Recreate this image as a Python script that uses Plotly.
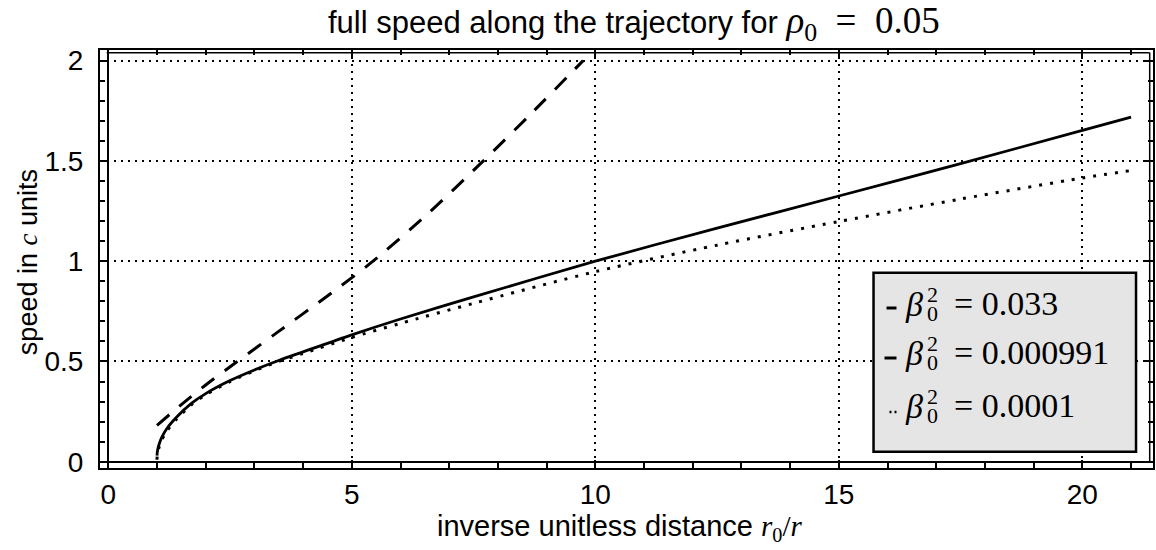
import plotly.graph_objects as go

# ---- data ----
x_dashed = [1.0, 1.5, 2.0, 2.62, 3.47, 4.59, 5.41, 6.54, 7.7, 8.72, 9.75]
y_dashed = [0.182, 0.285, 0.383, 0.495, 0.645, 0.843, 0.995, 1.232, 1.5, 1.745, 2.0]

x_solid = [1.0, 1.01, 1.04, 1.1, 1.2, 1.4, 1.7, 2.0, 2.5, 3.0, 3.5, 4.0, 5.0, 6.0, 7.5, 10, 12.5, 15, 17.5, 20, 21]
y_solid = [0.031, 0.055, 0.085, 0.123, 0.165, 0.222, 0.29, 0.34, 0.405, 0.458, 0.505, 0.548, 0.633, 0.712, 0.822, 1.0, 1.165, 1.325, 1.487, 1.652, 1.718]

x_dotted = [1.0, 1.01, 1.04, 1.1, 1.2, 1.4, 1.7, 2.0, 2.5, 3.0, 3.5, 4.0, 5.0, 6.0, 7.5, 10, 12.5, 15, 17.5, 20, 21]
y_dotted = [0.01, 0.04, 0.07, 0.11, 0.152, 0.212, 0.283, 0.334, 0.4, 0.454, 0.5, 0.54, 0.62, 0.69, 0.79, 0.948, 1.08, 1.198, 1.31, 1.415, 1.452]

legend_values = ["0.033", "0.000991", "0.0001"]
x_tick_vals = [0, 5, 10, 15, 20]
y_tick_vals = [0, 0.5, 1, 1.5, 2]
y_tick_text = ["0", "0.5", "1", "1.5", "2"]

# ---- layout helpers (pixel -> paper) ----
W, H = 1156, 550
L, R, T, B = 100, 1, 50, 82
PW, PH = W - L - R, H - T - B


def px(xp):
    return (xp - L) / PW


def py(yp):
    return (H - B - yp) / PH


SANS = "Liberation Sans"
SERIF = "Liberation Serif"

fig = go.Figure()
fig.add_trace(go.Scatter(x=x_dashed, y=y_dashed, mode="lines", line=dict(color="black", width=3, dash="16px,13px", shape="spline", smoothing=0.8), showlegend=False))
fig.add_trace(go.Scatter(x=x_solid, y=y_solid, mode="lines", line=dict(color="black", width=2.8, shape="spline", smoothing=0.8), showlegend=False))
fig.add_trace(go.Scatter(x=x_dotted, y=y_dotted, mode="lines", line=dict(color="black", width=3, dash="3px,8px", shape="spline", smoothing=0.8), showlegend=False))

axis_common = dict(
    showline=True, linewidth=2, linecolor="black", mirror="ticks",
    ticks="inside", ticklen=8, tickwidth=1.5, tickcolor="black",
    showgrid=True, gridcolor="black", gridwidth=1.6, griddash="2px,5px",
    zeroline=True, zerolinecolor="black", zerolinewidth=2,
    tickfont=dict(family=SANS, size=28, color="black"),
)

fig.update_xaxes(range=[-0.17, 21.45], tickvals=x_tick_vals, ticklabelstandoff=0,
                 minor=dict(dtick=1, tick0=0, ticks="inside", ticklen=5, tickwidth=1.5, tickcolor="black", showgrid=False),
                 **axis_common)
fig.update_yaxes(range=[-0.031, 2.053], tickvals=y_tick_vals, ticktext=y_tick_text, ticklabelstandoff=9,
                 minor=dict(dtick=0.1, tick0=0, ticks="inside", ticklen=5, tickwidth=1.5, tickcolor="black", showgrid=False),
                 **axis_common)

shapes = [
    # inner frame lines (right and top)
    dict(type="line", xref="paper", yref="paper", x0=px(1151.7), x1=px(1151.7), y0=py(462.7), y1=py(52.7), line=dict(color="black", width=1.5)),
    dict(type="line", xref="paper", yref="paper", x0=px(106.7), x1=px(1151.7), y0=py(52.7), y1=py(52.7), line=dict(color="black", width=1.5)),
    # legend box
    dict(type="rect", xref="paper", yref="paper", x0=px(875), x1=px(1138), y0=py(451.7), y1=py(272.7),
         fillcolor="#e5e5e5", line=dict(color="black", width=2.5), layer="above"),
    # legend samples
    dict(type="line", xref="paper", yref="paper", x0=px(888), x1=px(898), y0=py(308), y1=py(308), line=dict(color="black", width=3), layer="above"),
    dict(type="line", xref="paper", yref="paper", x0=px(886), x1=px(898), y0=py(358), y1=py(358), line=dict(color="black", width=3), layer="above"),
    dict(type="line", xref="paper", yref="paper", x0=px(891), x1=px(898), y0=py(412), y1=py(412), line=dict(color="black", width=2.5, dash="2px,3px"), layer="above"),
]

annotations = []
rows_y = [303, 352, 405]
for val, ry in zip(legend_values, rows_y):
    annotations.append(dict(xref="paper", yref="paper", x=px(926), y=py(ry + 1), xanchor="right", yanchor="middle",
                            text="<i>β</i>", showarrow=False, borderpad=0, font=dict(family=SERIF, size=34, color="black")))
    annotations.append(dict(xref="paper", yref="paper", x=px(928), y=py(ry - 9), xanchor="left", yanchor="middle",
                            text="2", showarrow=False, borderpad=0, height=17, font=dict(family=SERIF, size=22, color="black")))
    annotations.append(dict(xref="paper", yref="paper", x=px(928), y=py(ry + 10), xanchor="left", yanchor="middle",
                            text="0", showarrow=False, borderpad=0, height=17, font=dict(family=SERIF, size=22, color="black")))
    annotations.append(dict(xref="paper", yref="paper", x=px(955), y=py(ry), xanchor="left", yanchor="middle",
                            text="= " + val, showarrow=False, borderpad=0, font=dict(family=SERIF, size=34, color="black")))

# axis titles
annotations.append(dict(xref="paper", yref="paper", x=px(621), y=py(528), xanchor="center", yanchor="middle", showarrow=False,
                        text="inverse unitless distance <span style='font-family:Liberation Serif'><i>r</i><sub>0</sub>/<i>r</i></span>",
                        font=dict(family=SANS, size=29, color="black")))
annotations.append(dict(xref="paper", yref="paper", x=px(28), y=py(262), xanchor="center", yanchor="middle", showarrow=False,
                        textangle=-90,
                        text="speed in <span style='font-family:Liberation Serif'><i>c</i></span> units",
                        font=dict(family=SANS, size=27, color="black")))

title_text = ("full speed along the trajectory for "
              "<span style='font-family:Liberation Serif;font-size:37px'><i>ρ</i><sub>0</sub>"
              "&#8194;=&#8194;0.05</span>")

fig.update_layout(
    width=W, height=H,
    margin=dict(l=L, r=R, t=T, b=B),
    paper_bgcolor="white", plot_bgcolor="white",
    title=dict(text=title_text,
               x=328 / W, xref="container", xanchor="left", y=1 - 22 / H, yref="container", yanchor="middle",
               font=dict(family=SANS, size=31, color="black")),
    shapes=shapes,
    annotations=annotations,
    showlegend=False,
)

fig.write_html("out.html", config={"displayModeBar": False},
               post_script="document.body.style.margin='0px';document.body.style.overflow='hidden';")
